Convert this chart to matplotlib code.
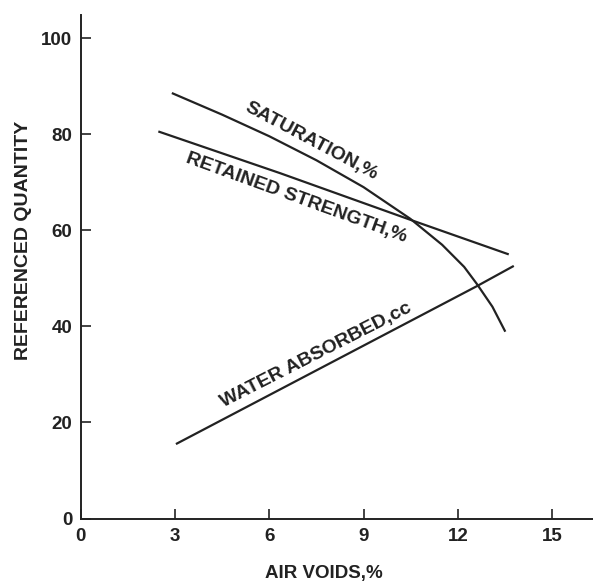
import matplotlib
matplotlib.use("Agg")
import matplotlib.pyplot as plt

# ---- data ----
sat_x = [2.9, 4.5, 6.0, 7.5, 9.0, 10.49, 11.5, 12.2, 12.61, 13.1, 13.51]
sat_y = [88.6, 84.1, 79.6, 74.6, 69.0, 62.4, 57.0, 52.4, 48.8, 44.1, 38.9]

ret_x = [2.47, 6.35, 10.49, 13.62]
ret_y = [80.6, 71.9, 62.2, 55.0]

wat_x = [3.03, 12.61, 13.78]
wat_y = [15.5, 48.4, 52.6]

x_ticks = [0, 3, 6, 9, 12, 15]
y_ticks = [0, 20, 40, 60, 80, 100]

labels = ["SATURATION,%", "RETAINED STRENGTH,%", "WATER ABSORBED,cc"]
label_pos = [(7.32, 78.5), (6.85, 66.7), (7.49, 34.1)]
label_rot = [-28, -20, 27]

# ---- plot ----
plt.rcParams['font.family'] = ['Liberation Sans', 'DejaVu Sans']
ink = '#222222'

fig = plt.figure(figsize=(5.93, 5.81), dpi=100)
W, H = 593, 581
left, right = 80.7, 593
top, bottom = 15, 518.5
ax = fig.add_axes([left / W, 1 - bottom / H, (right - left) / W, (bottom - top) / H])

for xs, ys in [(sat_x, sat_y), (ret_x, ret_y), (wat_x, wat_y)]:
    ax.plot(xs, ys, color=ink, lw=1.6, solid_capstyle='butt', solid_joinstyle='round')

for txt, (tx, ty), rot in zip(labels, label_pos, label_rot):
    ax.text(tx, ty, txt, rotation=rot, ha='center', va='center',
            fontsize=14, fontweight='bold', color=ink)

ax.set_xlim(0, 16.3)
ax.set_ylim(0, 104.85)
ax.set_xticks(x_ticks)
ax.set_yticks(y_ticks)
ax.set_xticklabels([str(v) for v in x_ticks])
ax.set_yticklabels([str(v) for v in y_ticks])

for s in ['top', 'right']:
    ax.spines[s].set_visible(False)
for s in ['left', 'bottom']:
    ax.spines[s].set_linewidth(1.4)
    ax.spines[s].set_color(ink)

ax.tick_params(axis='both', direction='in', length=7, width=1.2, color=ink,
               labelsize=13.5, labelcolor=ink)
ax.tick_params(axis='x', pad=7)
ax.tick_params(axis='y', pad=6)
for lab in ax.get_xticklabels() + ax.get_yticklabels():
    lab.set_fontweight('bold')

fig.text(324 / W, 1 - 573.7 / H, "AIR VOIDS,%", ha='center', va='center',
         fontsize=13.5, fontweight='bold', color=ink)
fig.text(24 / W, 1 - 240 / H, "REFERENCED QUANTITY", ha='center', va='center',
         rotation=90, fontsize=14, fontweight='bold', color=ink)

fig.savefig("out.png", dpi=100, facecolor='white')
